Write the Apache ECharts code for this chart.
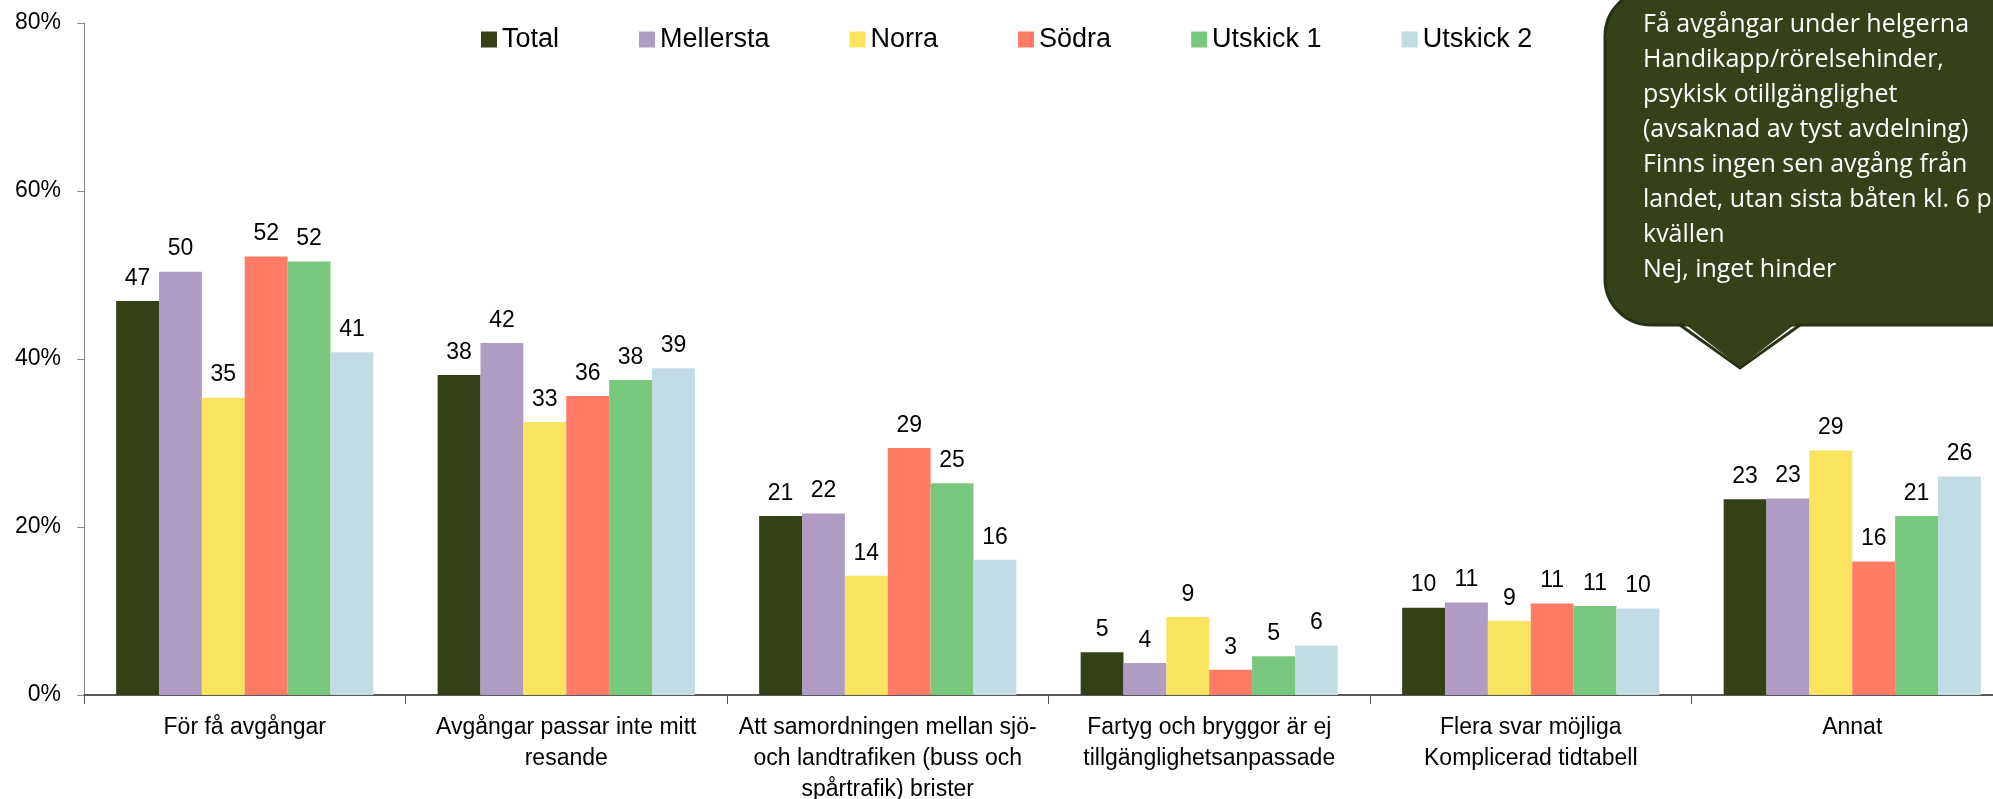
<!DOCTYPE html>
<html>
<head>
<meta charset="utf-8">
<script src="https://cdn.jsdelivr.net/npm/echarts@6.0.0/dist/echarts.min.js"></script>
<style>
  html, body { margin: 0; padding: 0; background: #fff; }
  #chart { width: 1993px; height: 799px; }
</style>
</head>
<body>
<div id="chart"></div>
<script>
  const categories = [
    'För få avgångar',
    'Avgångar passar inte mitt\nresande',
    'Att samordningen mellan sjö-\noch landtrafiken (buss och\nspårtrafik) brister',
    'Fartyg och bryggor är ej\ntillgänglighetsanpassade',
    'Flera svar möjliga\nKomplicerad tidtabell',
    'Annat'
  ]

  const seriesNames = ['Total', 'Mellersta', 'Norra', 'Södra', 'Utskick 1', 'Utskick 2']
  const colors = ['#344116', '#b09cc2', '#fae35f', '#ff7b66', '#78c77c', '#c2dce3']

  // percent per category
  const total = [46.9, 38.1, 21.3, 5.1, 10.4, 23.3]
  const mellersta = [50.4, 41.9, 21.6, 3.8, 11.0, 23.4]
  const norra = [35.4, 32.5, 14.2, 9.3, 8.8, 29.1]
  const sodra = [52.2, 35.6, 29.4, 3.0, 10.9, 15.9]
  const utskick1 = [51.6, 37.5, 25.2, 4.6, 10.6, 21.3]
  const utskick2 = [40.8, 38.9, 16.1, 5.9, 10.3, 26.0]
  const values = [total, mellersta, norra, sodra, utskick1, utskick2]

  const yTicks = { min: 0, max: 80, interval: 20 }

  // text in the callout box at the top right
  const calloutLines = [
    'Få avgångar under helgerna',
    'Handikapp/rörelsehinder,',
    'psykisk otillgänglighet',
    '(avsaknad av tyst avdelning)',
    'Finns ingen sen avgång från',
    'landet, utan sista båten kl. 6 på',
    'kvällen',
    'Nej, inget hinder'
  ]

  const chart = echarts.init(document.getElementById('chart'))

  const series = seriesNames.map(function (name, i) {
    return {
      name: name,
      type: 'bar',
      barGap: 0,
      barCategoryGap: '20%',
      data: values[i],
      itemStyle: { color: colors[i] },
      label: {
        show: true,
        position: 'top',
        distance: 11,
        color: '#000',
        fontFamily: 'Liberation Sans',
        fontSize: 23,
        formatter: function (p) {
          return Math.round(p.value)
        }
      }
    }
  })

  const boxFill = '#344119'
  const boxStroke = '#263211'

  const option = {
    animation: false,
    backgroundColor: '#fff',
    grid: {
      left: 84,
      right: -20,
      top: 23,
      bottom: 104,
      containLabel: false,
      outerBoundsMode: 'none'
    },
    legend: {
      data: seriesNames,
      left: 476,
      top: 21,
      icon: 'rect',
      itemWidth: 16,
      itemHeight: 16,
      itemGap: 80,
      textStyle: {
        fontFamily: 'Liberation Sans',
        fontSize: 27,
        color: '#000'
      }
    },
    xAxis: {
      type: 'category',
      data: categories,
      axisLine: { lineStyle: { color: '#222', width: 1.5 } },
      axisTick: { show: true, length: 9, lineStyle: { color: '#555' } },
      axisLabel: {
        interval: 0,
        margin: 17,
        color: '#000',
        fontFamily: 'Liberation Sans',
        fontSize: 23,
        lineHeight: 31
      }
    },
    yAxis: {
      type: 'value',
      min: yTicks.min,
      max: yTicks.max,
      interval: yTicks.interval,
      splitLine: { show: false },
      axisLine: { show: true, lineStyle: { color: '#888' } },
      axisTick: { show: true, length: 7, lineStyle: { color: '#888' } },
      axisLabel: {
        formatter: '{value}%',
        margin: 23,
        color: '#000',
        fontFamily: 'Liberation Sans',
        fontSize: 23
      }
    },
    graphic: [
      {
        type: 'rect',
        z: 100,
        shape: { x: 1605, y: -10, width: 440, height: 335, r: 46 },
        style: { fill: boxFill, stroke: boxStroke, lineWidth: 3 }
      },
      {
        type: 'polygon',
        z: 101,
        shape: { points: [[1681, 321], [1799, 321], [1740, 367]] },
        style: { fill: boxFill }
      },
      {
        type: 'polyline',
        z: 102,
        shape: { points: [[1680, 325], [1740, 368], [1800, 325]] },
        style: { fill: null, stroke: boxStroke, lineWidth: 3 }
      },
      {
        type: 'text',
        z: 103,
        x: 1643,
        y: 7,
        style: {
          text: calloutLines.join('\n'),
          fill: '#fff',
          fontFamily: 'Open Sans',
          fontSize: 25,
          lineHeight: 35,
          verticalAlign: 'top'
        }
      }
    ],
    series: series
  }

  chart.setOption(option)
</script>
</body>
</html>
